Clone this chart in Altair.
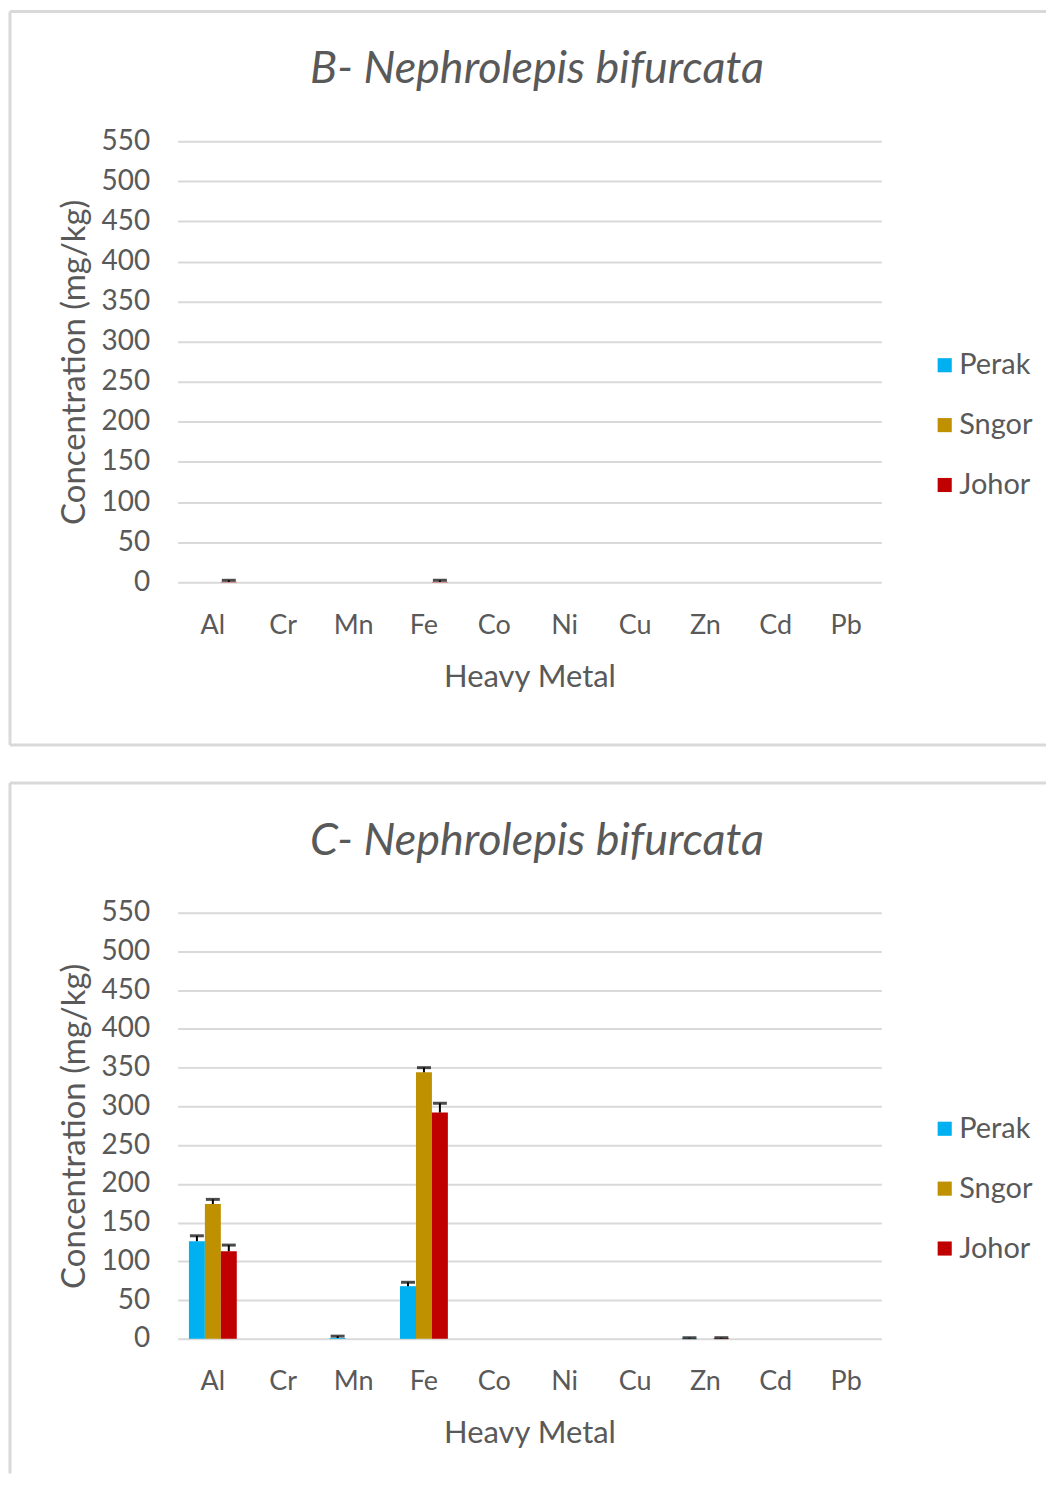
import altair as alt
import pandas as pd

metals = ["Al", "Cr", "Mn", "Fe", "Co", "Ni", "Cu", "Zn", "Cd", "Pb"]
regions = ["Perak", "Sngor", "Johor"]
colors = ["#00b0f0", "#bf9000", "#c00000"]

# Panel B values (mg/kg) and error
b_perak = [0, 0, 0, 0, 0, 0, 0, 0, 0, 0]
b_sngor = [0, 0, 0, 0, 0, 0, 0, 0, 0, 0]
b_johor = [0.5, 0, 0, 0.5, 0, 0, 0, 0, 0, 0]
b_perak_err = [0, 0, 0, 0, 0, 0, 0, 0, 0, 0]
b_sngor_err = [0, 0, 0, 0, 0, 0, 0, 0, 0, 0]
b_johor_err = [2.0, 0, 0, 2.0, 0, 0, 0, 0, 0, 0]

# Panel C values (mg/kg) and error
c_perak = [126, 0, 1, 68, 0, 0, 0, 0.5, 0, 0]
c_sngor = [174, 0, 0, 344, 0, 0, 0, 0, 0, 0]
c_johor = [113, 0, 0, 292, 0, 0, 0, 0.5, 0, 0]
c_perak_err = [7, 0, 2.5, 5, 0, 0, 0, 1, 0, 0]
c_sngor_err = [6, 0, 0, 6, 0, 0, 0, 0, 0, 0]
c_johor_err = [8, 0, 0, 12, 0, 0, 0, 1, 0, 0]

y_ticks = list(range(0, 551, 50))

FONT = "Lato"
TXT = "#595959"
GRID = "#d9d9d9"


def make_df(vals, errs):
    rows = []
    for r, v, e in zip(regions, vals, errs):
        for m, vv, ee in zip(metals, v, e):
            rows.append({"Metal": m, "Region": r, "Value": vv, "Err": ee,
                         "Top": vv + ee})
    return pd.DataFrame(rows)


def panel(title, df, plot_h, legend_y, bottom_border=True):
    yscale = alt.Scale(domain=[0, 550], nice=False)
    xscale = alt.Scale(paddingInner=0.32, paddingOuter=0.16)
    xaxis = alt.Axis(title="Heavy Metal", labelAngle=0, ticks=False,
                     domain=False, labelPadding=30, labelFontSize=27,
                     titleFontSize=31, titlePadding=24,
                     labelColor=TXT, titleColor=TXT,
                     labelFont=FONT, titleFont=FONT,
                     titleFontWeight="normal")
    yaxis = alt.Axis(title="Concentration (mg/kg)", values=y_ticks,
                     labelOverlap=False,
                     ticks=False, domain=False, labelPadding=28,
                     labelFontSize=28, titleFontSize=33,
                     titlePadding=10, gridColor=GRID, gridWidth=2,
                     labelColor=TXT, titleColor=TXT,
                     labelFont=FONT, titleFont=FONT,
                     titleFontWeight="normal")
    x = alt.X("Metal:N", sort=metals, scale=xscale, axis=xaxis)
    xo = alt.XOffset("Region:N", sort=regions)
    color = alt.Color("Region:N", sort=regions,
                      scale=alt.Scale(domain=regions, range=colors),
                      legend=alt.Legend(title=None, orient="none",
                                        legendX=754, legendY=legend_y,
                                        symbolType="square", symbolSize=200,
                                        symbolStrokeWidth=0,
                                        labelFontSize=29, labelFont=FONT,
                                        labelColor=TXT, labelOffset=0,
                                        rowPadding=30))
    bars = alt.Chart(df).mark_bar().encode(
        x=x, xOffset=xo,
        y=alt.Y("Value:Q", scale=yscale, axis=yaxis), color=color)
    err_df = df[df["Err"] > 0]
    rules = alt.Chart(err_df).mark_rule(color="black", strokeWidth=2).encode(
        x=x, xOffset=xo,
        y=alt.Y("Value:Q", scale=yscale, axis=yaxis), y2="Top:Q")
    caps = alt.Chart(err_df).mark_tick(color="black", thickness=3, size=14).encode(
        x=x, xOffset=xo,
        y=alt.Y("Top:Q", scale=yscale, axis=yaxis))

    one = pd.DataFrame({"t": [title]})
    bc = alt.Chart(one)
    ttl = bc.mark_text(font=FONT, fontSize=45, fontStyle="italic", color=TXT,
                       align="center", baseline="middle").encode(
        text="t:N", x=alt.value(360), y=alt.value(-72))
    top = bc.mark_rule(color=GRID, strokeWidth=3).encode(
        x=alt.value(-168), x2=alt.value(870), y=alt.value(-130))
    left = bc.mark_rule(color=GRID, strokeWidth=3).encode(
        x=alt.value(-168), y=alt.value(-130),
        y2=alt.value(plot_h + (163 if bottom_border else 135)))
    layers = [top, left, ttl, bars, rules, caps]
    if bottom_border:
        bottom = bc.mark_rule(color=GRID, strokeWidth=3).encode(
            x=alt.value(-168), x2=alt.value(870), y=alt.value(plot_h + 163))
        layers.append(bottom)
    return alt.layer(*layers).properties(width=705, height=plot_h)


dfB = make_df([b_perak, b_sngor, b_johor], [b_perak_err, b_sngor_err, b_johor_err])
dfC = make_df([c_perak, c_sngor, c_johor], [c_perak_err, c_sngor_err, c_johor_err])

pB = panel("B- Nephrolepis bifurcata", dfB, 442, 210)
pC = panel("C- Nephrolepis bifurcata", dfC, 427, 202, bottom_border=False)

chart = alt.vconcat(pB, pC, spacing=34).resolve_legend(color="independent").properties(
    padding=0
).configure_view(stroke="transparent", strokeWidth=0)

chart.save("out.html", embed_options={"renderer": "svg", "actions": False})
